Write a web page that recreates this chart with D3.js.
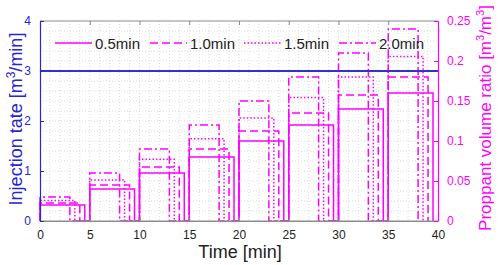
<!DOCTYPE html>
<html><head><meta charset="utf-8">
<script src="https://cdn.jsdelivr.net/npm/d3@7"></script>
<style>body{margin:0;background:#fff}svg{display:block;font-family:Arial,"Liberation Sans",sans-serif}</style>
</head><body><svg id="c" width="498" height="265"></svg>
<script>
// ---- data ----
const stageStarts = [0, 5, 10, 15, 20, 25, 30, 35];       // min
const stageLength = 5;                                      // min
const seriesNames = ["0.5min", "1.0min", "1.5min", "2.0min"];
const seriesGaps  = [0.5, 1.0, 1.5, 2.0];                   // min idle at end of stage
const ratio05 = [0.020, 0.040, 0.060, 0.080, 0.100, 0.120, 0.140, 0.160];
const ratio10 = [0.0225, 0.045, 0.0675, 0.090, 0.1125, 0.135, 0.1575, 0.180];
const ratio15 = [0.0257, 0.0514, 0.0771, 0.1029, 0.1286, 0.1543, 0.180, 0.2057];
const ratio20 = [0.030, 0.060, 0.090, 0.120, 0.150, 0.180, 0.210, 0.240];
const injectionTime = [0, 40];
const injectionRate = [3, 3];
const xTicks = [0, 5, 10, 15, 20, 25, 30, 35, 40];
const yLeftTicks = [0, 1, 2, 3, 4];
const yRightTicks = [0, 0.05, 0.1, 0.15, 0.2, 0.25];

// ---- layout ----
const svg = d3.select("#c");
const L = 40, R = 438, T = 21, B = 221;
const x = d3.scaleLinear().domain([0, 40]).range([L, R]);
const yL = d3.scaleLinear().domain([0, 4]).range([B, T]);
const yR = d3.scaleLinear().domain([0, 0.25]).range([B, T]);
const MAG = "#ff00ff", BLUE = "#2626d9", GRAY = "#8c8c8c";
const FONT = "Arial, Liberation Sans, sans-serif";

// grid (dotted)
const g = svg.append("g");
d3.range(1, 40).forEach(v => g.append("line").attr("x1", x(v)).attr("x2", x(v)).attr("y1", T).attr("y2", B)
  .attr("stroke", "#dcdcdc").attr("stroke-width", 1).attr("stroke-dasharray", "1,2"));
d3.range(1, 20).forEach(i => { const v = i * 0.2; g.append("line").attr("x1", L).attr("x2", R).attr("y1", yL(v)).attr("y2", yL(v))
  .attr("stroke", "#dcdcdc").attr("stroke-width", 1).attr("stroke-dasharray", "1,2"); });

// series
const series = [ratio05, ratio10, ratio15, ratio20];
const dashes = [null, "8,4", "1.5,2", "8,3,2,3"];
const line = d3.line().x(d => x(d[0])).y(d => yR(d[1]));
series.forEach((vals, si) => {
  const pts = [];
  stageStarts.forEach((s, i) => {
    const e = s + stageLength - seriesGaps[si];
    pts.push([s, 0], [s, vals[i]], [e, vals[i]], [e, 0]);
  });
  svg.append("path").attr("d", line(pts)).attr("fill", "none").attr("stroke", MAG)
    .attr("stroke-width", 1.5).attr("stroke-dasharray", dashes[si]);
});

// injection rate line
svg.append("path").attr("d", d3.line().x((d, i) => x(injectionTime[i])).y(d => yL(d))(injectionRate))
  .attr("fill", "none").attr("stroke", "#3333cc").attr("stroke-width", 1.8);

// frame
svg.append("line").attr("x1", L).attr("x2", R).attr("y1", T).attr("y2", T).attr("stroke", GRAY);
svg.append("line").attr("x1", L).attr("x2", R).attr("y1", B).attr("y2", B).attr("stroke", GRAY);

// bottom axis
const ax = svg.append("g").attr("transform", `translate(0,${B})`)
  .call(d3.axisBottom(x).tickValues(xTicks).tickSizeInner(-4).tickSizeOuter(0).tickPadding(9));
ax.select(".domain").attr("stroke", GRAY);
ax.selectAll(".tick line").attr("stroke", GRAY);
ax.selectAll("text").attr("font-size", 12).attr("fill", "#222").attr("font-family", FONT);
// top ticks
const at = svg.append("g").attr("transform", `translate(0,${T})`)
  .call(d3.axisTop(x).tickValues(xTicks).tickSizeInner(-4).tickSizeOuter(0).tickFormat(""));
at.select(".domain").remove();
at.selectAll(".tick line").attr("stroke", GRAY);

// left axis
const al = svg.append("g").attr("transform", `translate(${L},0)`)
  .call(d3.axisLeft(yL).tickValues(yLeftTicks).tickSizeInner(-4).tickSizeOuter(0).tickPadding(9).tickFormat(d3.format("d")));
al.select(".domain").attr("stroke", BLUE).attr("stroke-width", 1.2);
al.selectAll(".tick line").attr("stroke", BLUE);
al.selectAll("text").attr("font-size", 12).attr("fill", BLUE).attr("font-family", FONT);

// right axis
const ar = svg.append("g").attr("transform", `translate(${R},0)`)
  .call(d3.axisRight(yR).tickValues(yRightTicks).tickSizeInner(-4).tickSizeOuter(0).tickPadding(9).tickFormat(d3.format("~g")));
ar.select(".domain").attr("stroke", MAG).attr("stroke-width", 1.2);
ar.selectAll(".tick line").attr("stroke", MAG);
ar.selectAll("text").attr("font-size", 12).attr("fill", MAG).attr("font-family", FONT);

// axis titles
svg.append("text").attr("x", 240).attr("y", 258).attr("text-anchor", "middle")
  .attr("font-size", 18).attr("fill", "#222").text("Time [min]");
const lt = svg.append("text").attr("transform", `translate(22,${(T + B) / 2 - 2}) rotate(-90)`)
  .attr("text-anchor", "middle").attr("font-size", 18).attr("fill", BLUE);
lt.append("tspan").text("Injection tate [m");
lt.append("tspan").attr("font-size", 12).attr("dy", -7).text("3");
lt.append("tspan").attr("dy", 7).text("/min]");
const rt = svg.append("text").attr("transform", `translate(491,${(T + B) / 2 - 3}) rotate(-90)`)
  .attr("text-anchor", "middle").attr("font-size", 17).attr("fill", MAG);
rt.append("tspan").text("Proppant volume ratio [m");
rt.append("tspan").attr("font-size", 11).attr("dy", -7).text("3");
rt.append("tspan").attr("dy", 7).text("/m");
rt.append("tspan").attr("font-size", 11).attr("dy", -7).text("3");
rt.append("tspan").attr("dy", 7).text("]");

// legend
const legX = [55, 150, 244, 339];
seriesNames.forEach((n, i) => {
  svg.append("line").attr("x1", legX[i]).attr("x2", legX[i] + 37).attr("y1", 43).attr("y2", 43)
    .attr("stroke", MAG).attr("stroke-width", 1.5).attr("stroke-dasharray", dashes[i]);
  svg.append("text").attr("x", legX[i] + 40).attr("y", 49).attr("font-size", 15).attr("fill", "#222").text(n);
});
</script></body></html>
